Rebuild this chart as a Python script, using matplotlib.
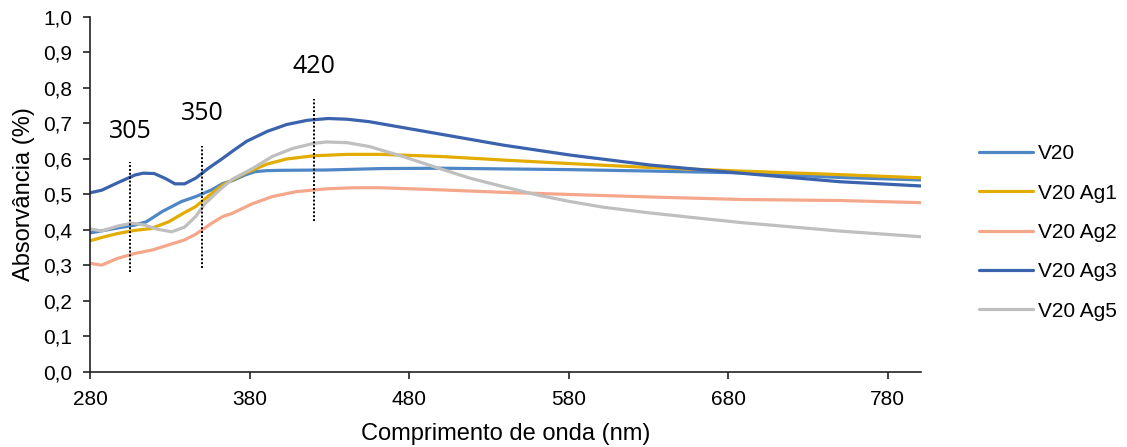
import matplotlib.pyplot as plt
from matplotlib.ticker import FuncFormatter

# Espectros de absorção UV-Vis (comprimento de onda em nm, absorvância)
nm_v20 = [280, 290, 300, 308, 315, 325, 337, 346, 356, 363, 369, 377, 383, 390, 398,
          428, 462, 500, 540, 581, 631, 688, 750, 801]
abs_v20 = [0.392, 0.400, 0.408, 0.414, 0.423, 0.452, 0.480, 0.494, 0.513, 0.531, 0.539,
           0.555, 0.564, 0.567, 0.568, 0.569, 0.573, 0.574, 0.572, 0.570, 0.566, 0.561,
           0.548, 0.541]

nm_ag1 = [280, 288, 297, 308, 318, 329, 339, 346, 356, 363, 369, 377, 391, 403, 420,
          441, 462, 500, 539, 581, 631, 688, 750, 801]
abs_ag1 = [0.370, 0.380, 0.390, 0.399, 0.404, 0.423, 0.449, 0.466, 0.503, 0.527, 0.541,
           0.560, 0.586, 0.600, 0.609, 0.613, 0.613, 0.607, 0.597, 0.587, 0.576, 0.566,
           0.556, 0.547]

nm_ag2 = [280, 287, 297, 308, 319, 329, 339, 346, 356, 363, 369, 381, 394, 409, 428,
          445, 462, 500, 539, 581, 631, 688, 750, 801]
abs_ag2 = [0.306, 0.301, 0.320, 0.334, 0.344, 0.358, 0.372, 0.388, 0.419, 0.438, 0.447,
           0.473, 0.494, 0.508, 0.516, 0.519, 0.519, 0.513, 0.506, 0.500, 0.493, 0.486,
           0.483, 0.477]

nm_ag3 = [280, 287, 297, 308, 313, 320, 327, 333, 339, 346, 354, 363, 370, 378, 391,
          403, 416, 429, 441, 455, 497, 539, 581, 631, 688, 750, 801]
abs_ag3 = [0.505, 0.512, 0.533, 0.555, 0.560, 0.559, 0.545, 0.530, 0.530, 0.546, 0.574,
           0.602, 0.625, 0.650, 0.678, 0.697, 0.709, 0.714, 0.712, 0.705, 0.672, 0.639,
           0.611, 0.583, 0.560, 0.536, 0.524]

nm_ag5 = [280, 287, 297, 306, 314, 322, 331, 339, 346, 352, 361, 369, 382, 394, 407,
          420, 428, 441, 455, 476, 497, 518, 539, 560, 581, 602, 631, 656, 688, 719,
          750, 801]
abs_ag5 = [0.403, 0.397, 0.411, 0.419, 0.414, 0.402, 0.395, 0.408, 0.438, 0.475, 0.513,
           0.543, 0.574, 0.607, 0.630, 0.644, 0.648, 0.646, 0.635, 0.607, 0.576, 0.546,
           0.522, 0.499, 0.480, 0.464, 0.448, 0.436, 0.421, 0.409, 0.397, 0.381]

# Bandas marcadas (nm) e extensão vertical das linhas pontilhadas
picos = [305, 350, 420]
picos_y0 = [0.282, 0.292, 0.425]
picos_y1 = [0.592, 0.637, 0.769]
picos_txt_y = [0.677, 0.729, 0.860]

series = [
    ("V20", nm_v20, abs_v20, "#4F86C6"),
    ("V20 Ag1", nm_ag1, abs_ag1, "#E2AC00"),
    ("V20 Ag2", nm_ag2, abs_ag2, "#F4A78B"),
    ("V20 Ag3", nm_ag3, abs_ag3, "#3A62AD"),
    ("V20 Ag5", nm_ag5, abs_ag5, "#BFBFBF"),
]

plt.rcParams["font.family"] = ["Liberation Sans", "DejaVu Sans"]

fig = plt.figure(figsize=(11.27, 4.47), dpi=100)
ax = fig.add_axes([0.0803, 0.1678, 0.7369, 0.7942])

for nome, x, y, cor in series:
    ax.plot(x, y, color=cor, linewidth=2.3, label=nome, solid_capstyle="round")

for xp, y0, y1, ty in zip(picos, picos_y0, picos_y1, picos_txt_y):
    ax.plot([xp, xp], [y0, y1], color="black", linewidth=1.4, linestyle=(0, (1, 1)))
    ax.text(xp, ty, str(xp), ha="center", va="center", fontsize=18,
            family=["Open Sans", "DejaVu Sans"], color="black")

ax.set_xlim(280, 801)
ax.set_ylim(0, 1.0)
ax.set_xticks(range(280, 781, 100))
ax.set_yticks([i / 10 for i in range(11)])
ax.yaxis.set_major_formatter(FuncFormatter(lambda v, p: f"{v:.1f}".replace(".", ",")))

for lado in ["top", "right"]:
    ax.spines[lado].set_visible(False)
for lado in ["left", "bottom"]:
    ax.spines[lado].set_linewidth(1.2)
    ax.spines[lado].set_color("#222222")
ax.tick_params(direction="out", length=5, width=1.2, labelsize=15, color="#222222")
ax.tick_params(axis="x", pad=8)
ax.tick_params(axis="y", pad=8)

ax.set_xlabel("Comprimento de onda (nm)", fontsize=17, labelpad=10)
ax.set_ylabel("Absorvância (%)", fontsize=17, labelpad=6)

fig.legend(loc="center left", bbox_to_anchor=(0.8687, 0.48), frameon=False,
           fontsize=15, handlelength=2.6, handletextpad=0.25, labelspacing=0.98,
           borderpad=0, borderaxespad=0)

fig.savefig("out.png", dpi=100)
